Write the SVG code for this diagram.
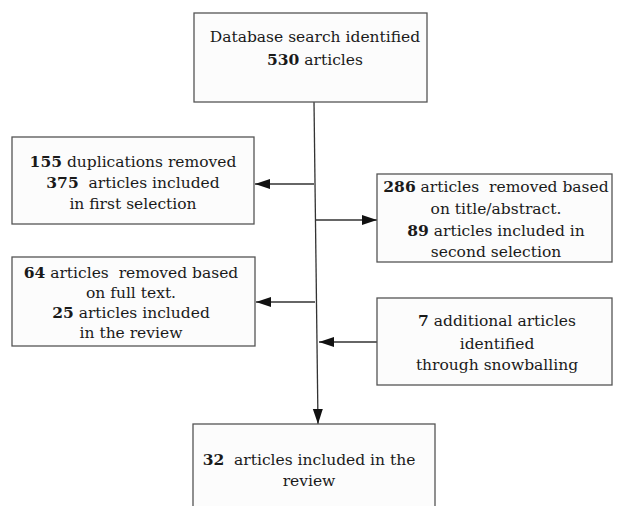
<svg xmlns="http://www.w3.org/2000/svg" width="617" height="506" viewBox="0 0 617 506">
<style>
.box{fill:#fcfcfc;stroke:#555;stroke-width:1.3}
.t{font-family:"DejaVu Serif","Liberation Serif",serif;font-size:15.5px;fill:#1a1a1a;text-anchor:middle;white-space:pre}
.b{font-weight:bold}
.c{stroke:#333;stroke-width:1.3;fill:none;marker-end:url(#ah)}
</style>
<defs>
<marker id="ah" markerUnits="userSpaceOnUse" markerWidth="16" markerHeight="11" refX="15" refY="5" orient="auto">
<path d="M0,0 L15,5 L0,10 z" fill="#111"/>
</marker>
</defs>
<rect width="617" height="506" fill="#fff"/>
<g id="connectors">
<line class="c" x1="314" y1="102" x2="318" y2="424"/>
<line class="c" x1="314" y1="184" x2="255" y2="184"/>
<line class="c" x1="316" y1="220" x2="377" y2="220"/>
<line class="c" x1="315" y1="302" x2="256" y2="302"/>
<line class="c" x1="377" y1="342" x2="319" y2="342"/>
</g>
<g id="n1">
<rect class="box" x="194" y="13" width="233" height="89"/>
<text class="t" x="315" y="42">Database search identified</text>
<text class="t" x="315" y="65"><tspan class="b">530</tspan> articles</text>
</g>
<g id="n2">
<rect class="box" x="12" y="137" width="242" height="87"/>
<text class="t" x="133" y="167"><tspan class="b">155</tspan> duplications removed</text>
<text class="t" x="133" y="188"><tspan class="b">375</tspan>  articles included</text>
<text class="t" x="133" y="209">in first selection</text>
</g>
<g id="n3">
<rect class="box" x="377" y="174" width="235" height="88"/>
<text class="t" x="496" y="192"><tspan class="b">286</tspan> articles  removed based</text>
<text class="t" x="496" y="214">on title/abstract.</text>
<text class="t" x="496" y="236"><tspan class="b">89</tspan> articles included in</text>
<text class="t" x="496" y="257">second selection</text>
</g>
<g id="n4">
<rect class="box" x="12" y="257" width="243" height="89"/>
<text class="t" x="131" y="278"><tspan class="b">64</tspan> articles  removed based</text>
<text class="t" x="131" y="298">on full text.</text>
<text class="t" x="131" y="318"><tspan class="b">25</tspan> articles included</text>
<text class="t" x="131" y="338">in the review</text>
</g>
<g id="n5">
<rect class="box" x="377" y="298" width="235" height="87"/>
<text class="t" x="497" y="326"><tspan class="b">7</tspan> additional articles</text>
<text class="t" x="497" y="349">identified</text>
<text class="t" x="497" y="370">through snowballing</text>
</g>
<g id="n6">
<rect class="box" x="193" y="424" width="242" height="100"/>
<text class="t" x="309" y="465"><tspan class="b">32</tspan>  articles included in the</text>
<text class="t" x="309" y="486">review</text>
</g>
</svg>
